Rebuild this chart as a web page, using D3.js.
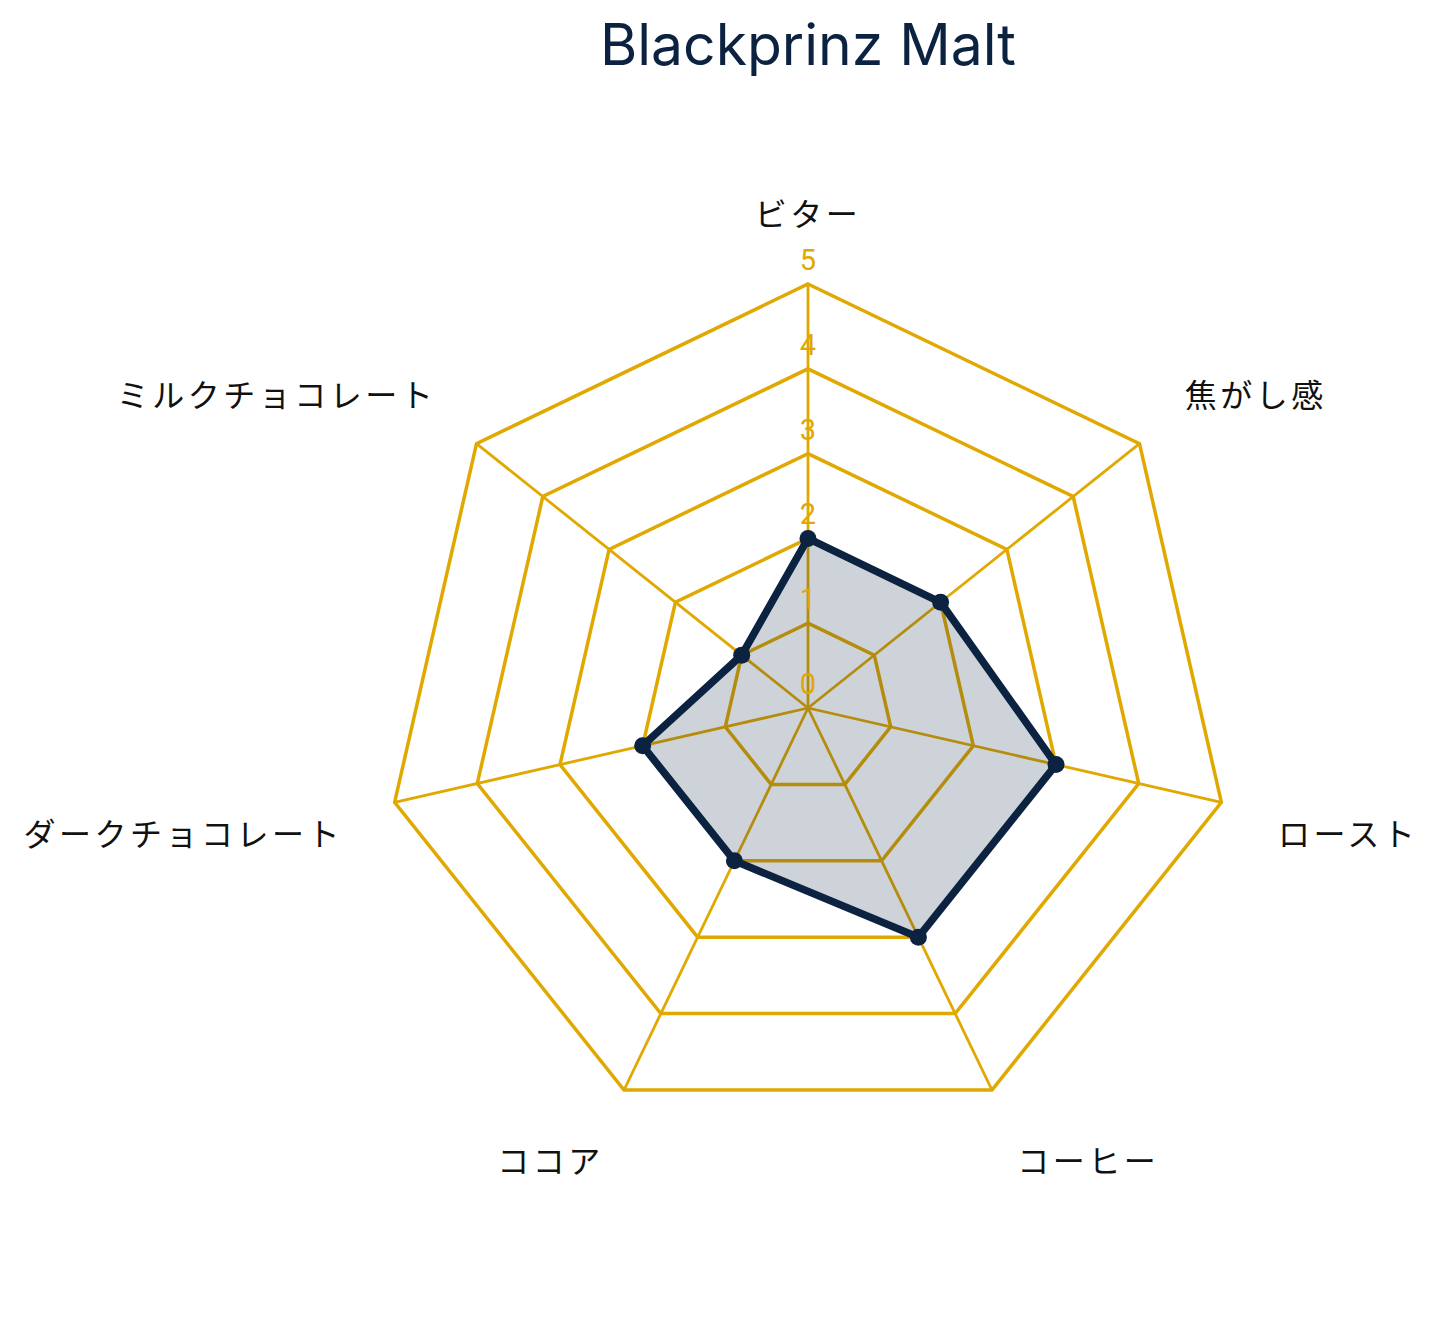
<!DOCTYPE html>
<html>
<head>
<meta charset="utf-8">
<script src="https://cdn.jsdelivr.net/npm/d3@7"></script>
<style>
  body { margin: 0; background: #fff; }
  svg { display: block; }
</style>
</head>
<body>
<svg id="chart"></svg>
<script>
// data
const categories = ["ビター", "焦がし感", "ロースト", "コーヒー", "ココア", "ダークチョコレート", "ミルクチョコレート"];
const values = [2, 2, 3, 3, 2, 2, 1];
const tickLabels = [0, 1, 2, 3, 4, 5];
const title = "Blackprinz Malt";

const W = 1440, H = 1324;
const cx = 808, cy = 708, R = 424;
const gold = "#e0a800";
const navy = "#0b2240";

const svg = d3.select("#chart")
    .attr("width", W)
    .attr("height", H);

// title
svg.append("text")
    .attr("x", cx)
    .attr("y", 65)
    .attr("text-anchor", "middle")
    .attr("font-family", "Inter, Roboto, sans-serif")
    .attr("font-size", 57)
    .attr("fill", navy)
    .text(title);

const rScale = d3.scaleLinear().domain([0, 5]).range([0, R]);
const angle = d3.scalePoint()
    .domain(categories)
    .range([0, 2 * Math.PI * (categories.length - 1) / categories.length]);

const px = (c, v) => cx + rScale(v) * Math.sin(angle(c));
const py = (c, v) => cy - rScale(v) * Math.cos(angle(c));

const g = svg.append("g");

// rings
const ring = d3.line().x(d => d[0]).y(d => d[1]).curve(d3.curveLinearClosed);
g.selectAll(".ring")
    .data(tickLabels.filter(t => t > 0))
    .enter()
    .append("path")
    .attr("class", "ring")
    .attr("d", t => ring(categories.map(c => [px(c, t), py(c, t)])))
    .attr("fill", "none")
    .attr("stroke", gold)
    .attr("stroke-width", 3.5)
    .attr("stroke-linejoin", "miter");

// spokes
g.selectAll(".spoke")
    .data(categories)
    .enter()
    .append("line")
    .attr("x1", cx).attr("y1", cy)
    .attr("x2", c => px(c, 5)).attr("y2", c => py(c, 5))
    .attr("stroke", gold)
    .attr("stroke-width", 2.8);

// series area
const pts = categories.map((c, i) => [px(c, values[i]), py(c, values[i])]);
g.append("path")
    .attr("d", ring(pts))
    .attr("fill", navy)
    .attr("fill-opacity", 0.2)
    .attr("stroke", navy)
    .attr("stroke-width", 7.5)
    .attr("stroke-linejoin", "round");

g.selectAll(".dot")
    .data(pts)
    .enter()
    .append("circle")
    .attr("cx", d => d[0])
    .attr("cy", d => d[1])
    .attr("r", 8.5)
    .attr("fill", navy);

// tick labels
g.selectAll(".tick")
    .data(tickLabels)
    .enter()
    .append("text")
    .attr("x", cx)
    .attr("y", t => cy - rScale(t) - 24)
    .attr("text-anchor", "middle")
    .attr("dominant-baseline", "central")
    .attr("font-family", "Roboto, sans-serif")
    .attr("font-size", 29)
    .attr("fill", gold)
    .text(t => t);

// category labels (end-anchored ones nudged right to drop trailing letter-spacing)
const lr = 482;
g.selectAll(".cat")
    .data(categories)
    .enter()
    .append("text")
    .attr("x", c => {
        const s = Math.sin(angle(c));
        return cx + lr * s + (s < -0.01 ? 5 : 0);
    })
    .attr("y", c => {
        const cs = Math.cos(angle(c));
        return cy - lr * cs + (cs > 0 ? -14 : 17);
    })
    .attr("text-anchor", c => {
        const s = Math.sin(angle(c));
        return Math.abs(s) < 0.01 ? "middle" : (s > 0 ? "start" : "end");
    })
    .attr("dominant-baseline", "central")
    .attr("font-family", "'Noto Sans CJK JP', sans-serif")
    .attr("font-size", 32)
    .attr("letter-spacing", 3.5)
    .attr("fill", "#111")
    .text(c => c);
</script>
</body>
</html>
